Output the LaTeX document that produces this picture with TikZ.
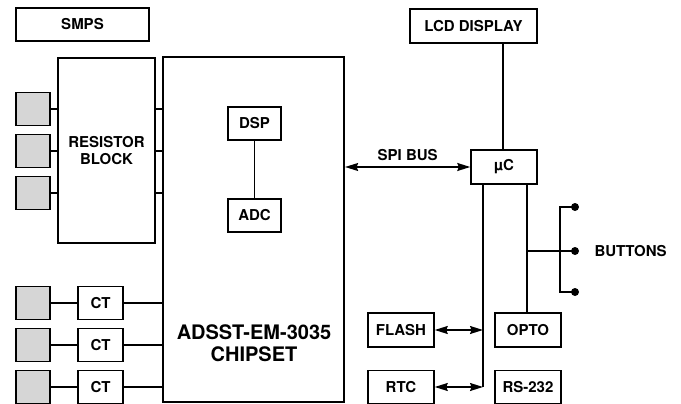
\documentclass[tikz,border=0pt]{standalone}
\usepackage{fontspec}
\setmainfont{TeX Gyre Heros}
\usetikzlibrary{arrows.meta}
\tikzset{
	blk/.style={draw, line width=1.5pt, inner sep=0pt, align=center, font=\bfseries\fontsize{15}{17}\selectfont},
	pad/.style={draw, line width=1.5pt, fill=black!16, minimum width=34pt, minimum height=33pt, inner sep=0pt},
	wire/.style={line width=1.3pt},
	bus/.style={line width=1.3pt, {Stealth[length=13pt,width=8pt,inset=1.5pt]}-{Stealth[length=13pt,width=8pt,inset=1.5pt]}},
}
\begin{document}
\begin{tikzpicture}[x=1pt, y=-1pt]
			\useasboundingbox (0,0) rectangle (681,404);
			% left side
			\node[blk, minimum width=133pt, minimum height=33pt] (smps) at (82.5,24.5) {SMPS};
			\node[blk, minimum width=97pt, minimum height=185pt] (res) at (106.5,150.5) {RESISTOR\\BLOCK};
			\node[blk, line width=2.2pt, minimum width=181pt, minimum height=345pt] (chip) at (253.5,229.5) {};
			\node[font=\bfseries\fontsize{20}{22}\selectfont, align=center] (chiplbl) at (254,343) {ADSST-EM-3035\\CHIPSET};
			\node[blk, minimum width=53pt, minimum height=33pt] (dsp) at (254.5,123.5) {DSP};
			\node[blk, minimum width=53pt, minimum height=33pt] (adc) at (254.5,215.5) {ADC};
			\node[pad] (pa) at (33,109) {};
			\node[pad] (pb) at (33,151) {};
			\node[pad] (pc) at (33,193) {};
			\node[pad] (pd) at (33,303) {};
			\node[pad] (pe) at (33,345) {};
			\node[pad] (pf) at (33,387) {};
			\node[blk, minimum width=45pt, minimum height=33pt] (cta) at (100.5,303) {CT};
			\node[blk, minimum width=45pt, minimum height=33pt] (ctb) at (100.5,345) {CT};
			\node[blk, minimum width=45pt, minimum height=33pt] (ctc) at (100.5,387) {CT};
			\draw[wire] (pa) to (res.west |- pa);
			\draw[wire] (pb) to (res.west |- pb);
			\draw[wire] (pc) to (res.west |- pc);
			\draw[wire] (res.east |- pa) to (chip.west |- pa);
			\draw[wire] (res.east |- pb) to (chip.west |- pb);
			\draw[wire] (res.east |- pc) to (chip.west |- pc);
			\draw[wire] (pd) to (cta) to (chip.west |- cta);
			\draw[wire] (pe) to (ctb) to (chip.west |- ctb);
			\draw[wire] (pf) to (ctc) to (chip.west |- ctc);
			\draw[wire] (dsp) to (adc);
			% right side
			\node[blk, minimum width=127pt, minimum height=34pt] (lcd) at (473.5,26) {LCD DISPLAY};
			\node[blk, minimum width=66pt, minimum height=34pt] (uc) at (504,167) {µC};
			\node[blk, minimum width=66pt, minimum height=34pt] (flash) at (401,330) {FLASH};
			\node[blk, minimum width=66pt, minimum height=33pt] (rtc) at (401,387) {RTC};
			\node[blk, minimum width=66pt, minimum height=34pt] (opto) at (528,330) {OPTO};
			\node[blk, minimum width=66pt, minimum height=33pt] (rs) at (528,387) {RS-232};
			\coordinate (lcdx) at (503,0);
			\coordinate (busl) at (483,0);
			\coordinate (busr) at (527,0);
			\coordinate (btn1) at (575,207);
			\coordinate (btn2) at (575,251);
			\coordinate (btn3) at (575,292);
			\coordinate (btnbar) at (560,0);
			\draw[wire] (lcd.south -| lcdx) to (uc.north -| lcdx);
			\draw[bus] (chip.east |- uc) to node[above=2pt, font=\bfseries\fontsize{15}{17}\selectfont] (spi) {SPI BUS} (uc.west);
			\draw[wire] (uc.south -| busl) to (busl |- rtc);
			\draw[wire] (uc.south -| busr) to (opto.north -| busr);
			\draw[bus] (flash.east) to (busl |- flash);
			\draw[bus] (rtc.east) to (busl |- rtc);
			\draw[wire] (busr |- btn2) to (btn2);
			\draw[wire] (btn1) to (btnbar |- btn1) to (btnbar |- btn3) to (btn3);
			\fill (btn1) circle (4pt);
			\fill (btn2) circle (4pt);
			\fill (btn3) circle (4pt);
			\node[anchor=west, font=\bfseries\fontsize{15}{17}\selectfont] (btnlbl) at (591,251) {BUTTONS};
		\end{tikzpicture}
\end{document}
